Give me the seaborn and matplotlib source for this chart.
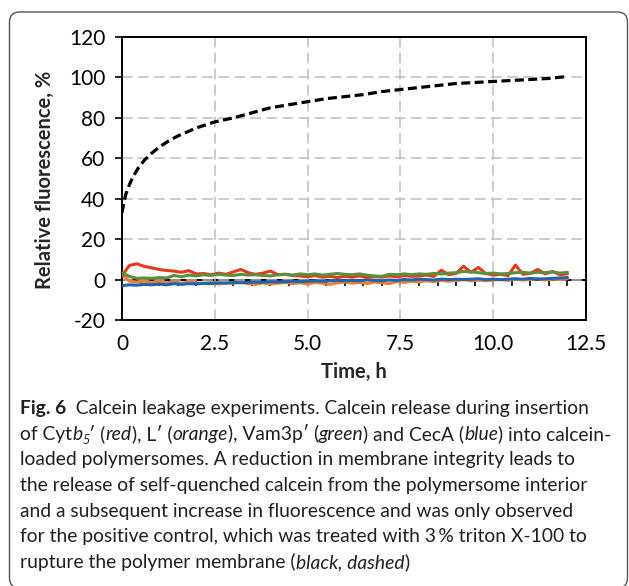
import numpy as np
import seaborn as sns
import matplotlib.pyplot as plt
from matplotlib.patches import FancyBboxPatch
from matplotlib.ticker import MultipleLocator

# time grid of the peptide runs (h)
hours = np.round(np.arange(0, 12.01, 0.2), 1)

cytb5 = [2.0, 7.0, 7.8, 6.5, 5.8, 5.0, 4.5, 4.2, 3.6, 4.4, 2.8, 3.0, 2.4, 3.2, 2.6, 3.8,
         5.0, 3.4, 2.6, 3.2, 4.2, 2.4, 2.6, 2.0, 1.8, 1.4, 2.0, 1.2, 1.6, 1.0, 1.6, 1.2,
         1.8, 1.0, 1.4, 1.2, 1.8, 1.4, 2.0, 1.6, 1.8, 2.2, 1.6, 4.6, 2.4, 3.0, 6.6, 3.6,
         6.0, 3.0, 2.2, 2.6, 2.0, 7.2, 2.6, 3.0, 5.0, 2.8, 4.0, 2.4, 2.8]
l_prime = [2.6, -0.8, -1.2, -0.8, -1.4, -1.0, -1.6, -1.2, -1.8, -1.2, -1.6, -2.0, -1.4, -2.2,
           -1.6, -1.8, -1.2, -2.0, -2.4, -1.6, -2.2, -1.8, -1.4, -2.0, -1.6, -2.2, -1.4, -1.8,
           -2.4, -1.6, -1.2, -1.8, -1.4, -2.0, -1.2, -1.6, -2.0, -1.0, -1.4, -0.8, -1.2, -0.6,
           -1.0, -0.4, -0.8, -0.4, 0.0, -0.6, -0.2, -0.6, -0.2, 0.0, -0.4, 0.2, -0.2, 0.0,
           0.4, -0.2, 0.2, 0.0, 0.4]
vam3p = [3.4, 1.6, 0.6, 0.8, 0.6, 1.0, 0.8, 2.0, 1.4, 2.2, 1.8, 2.4, 2.0, 2.6, 2.2, 2.0,
         2.6, 2.2, 2.4, 2.0, 1.8, 2.4, 2.6, 2.2, 2.8, 2.4, 2.8, 2.2, 2.6, 3.0, 2.6, 2.4,
         2.8, 2.2, 1.8, 1.6, 2.6, 2.4, 2.8, 2.4, 2.8, 2.6, 3.0, 2.8, 3.2, 3.4, 4.0, 3.8,
         3.4, 3.0, 3.2, 2.8, 3.0, 3.4, 3.6, 3.2, 3.6, 3.4, 3.8, 3.2, 3.6]
ceca = [-3.0, -2.6, -2.8, -2.4, -2.6, -2.2, -2.6, -2.0, -2.4, -2.0, -2.2, -1.8, -2.0, -1.6,
        -1.8, -1.4, -1.6, -1.4, -1.2, -1.4, -1.0, -1.2, -1.0, -0.8, -1.0, -0.8, -0.6, -0.8,
        -0.6, -0.4, -0.6, -0.4, -0.6, -0.2, -0.4, -0.6, -0.2, -0.4, 0.0, -0.2, 0.2, 0.0,
        -0.2, 0.2, 0.0, 0.2, 0.0, 0.2, 0.4, 0.0, 0.2, 0.0, 0.2, 0.4, 0.2, 0.6, 0.2, 0.4,
        0.6, 0.8, 1.0]

# positive control (3 % triton X-100)
triton_h = [0, 0.05, 0.1, 0.2, 0.3, 0.45, 0.6, 0.8, 1.0, 1.25, 1.5, 1.75, 2.0, 2.5, 3.0,
            3.5, 4.0, 4.5, 5.0, 5.5, 6.0, 6.5, 7.0, 7.5, 8.0, 8.5, 9.0, 9.5, 10.0, 10.5,
            11.0, 11.5, 12.0]
triton = [33, 38, 42, 47, 51, 55.5, 59, 62.5, 65.5, 68.5, 71, 73, 75, 78, 80, 82.5, 85,
          86.5, 88, 89.5, 90.5, 91.5, 93, 94, 95, 96, 97, 97.5, 98, 98.5, 99, 99.5, 100.5]

x_ticks = [0, 2.5, 5.0, 7.5, 10.0, 12.5]
x_ticklabels = ['0', '2.5', '5.0', '7.5', '10.0', '12.5']

sns.set_style('white')
plt.rcParams['font.family'] = ['Lato', 'DejaVu Sans']
plt.rcParams['axes.unicode_minus'] = False

W, H = 629, 586
fig = plt.figure(figsize=(W / 100, H / 100), dpi=100)
ax = fig.add_axes([122 / W, 1 - 320 / H, (586 - 122) / W, (320 - 37) / H])

sns.lineplot(x=triton_h, y=triton, ax=ax, color='black', lw=2.3,
             linestyle=(0, (2.8, 1.4)), zorder=5)
sns.lineplot(x=hours, y=l_prime, ax=ax, color='#ED7D31', lw=2.2, zorder=4)
sns.lineplot(x=hours, y=ceca, ax=ax, color='#1F64AE', lw=2.2, zorder=4)
sns.lineplot(x=hours, y=cytb5, ax=ax, color='#E8381B', lw=2.2, zorder=4)
sns.lineplot(x=hours, y=vam3p, ax=ax, color='#5B8F3C', lw=2.2, zorder=4)

ax.set_xlim(0, 12.5)
ax.set_ylim(-20, 120)
ax.set_xticks(x_ticks)
ax.set_xticklabels(x_ticklabels)
ax.yaxis.set_major_locator(MultipleLocator(20))
ax.grid(True, color='#BFBFBF', lw=1.1, linestyle=(0, (7, 3.5)))
ax.set_axisbelow(True)
for s in ax.spines.values():
    s.set_color('black')
    s.set_linewidth(1.4)
ax.tick_params(axis='y', left=True, length=5, width=1.2, pad=7, labelsize=15, colors='black')
ax.tick_params(axis='x', bottom=False, length=0, pad=10, labelsize=15, colors='black')
ax.set_xlabel('')
ax.set_ylabel('')

# x axis crossing at y = 0
zero_ax = ax.secondary_xaxis(1 / 7)
zero_ax.xaxis.set_major_locator(MultipleLocator(0.5))
zero_ax.tick_params(axis='x', direction='out', length=4, width=1.2, labelbottom=False,
                    colors='black')
zero_ax.spines['bottom'].set_linewidth(1.4)
zero_ax.spines['bottom'].set_color('black')

fig.text(45 / W, 1 - 180 / H, 'Relative fluorescence, %', rotation=90, ha='center',
         va='center', fontsize=14.5, fontweight='bold')
fig.text(354 / W, 1 - 372 / H, 'Time, h', ha='center', va='center', fontsize=14.5,
         fontweight='bold')

# rounded frame around figure + caption
fig.add_artist(FancyBboxPatch((9.5, -2), 618, H - 12 + 2, boxstyle='round,pad=0,rounding_size=10',
                              transform=None, fill=False, ec='#555555', lw=1.0))

# caption, drawn piece by piece for the mixed styles
cap_size = 13.9
renderer = fig.canvas.get_renderer()
styles = {
    'n': dict(),
    'b': dict(fontweight='bold'),
    'i': dict(fontstyle='italic'),
    's': dict(fontstyle='italic', fontsize=cap_size * 0.65),
}
caption = [
    [('Fig. 6', 'b'), ('  Calcein leakage experiments. Calcein release during insertion', 'n')],
    [('of Cyt', 'n'), ('b', 'i'), ('5', 's'), ('\u2032 (', 'n'), ('red', 'i'), ('), L\u2032 (', 'n'),
     ('orange', 'i'), ('), Vam3p\u2032 (', 'n'), ('green', 'i'), (') and CecA (', 'n'),
     ('blue', 'i'), (') into calcein-', 'n')],
    [('loaded polymersomes. A reduction in membrane integrity leads to', 'n')],
    [('the release of self-quenched calcein from the polymersome interior', 'n')],
    [('and a subsequent increase in fluorescence and was only observed', 'n')],
    [('for the positive control, which was treated with 3\u2009% triton X-100 to', 'n')],
    [('rupture the polymer membrane (', 'n'), ('black, dashed', 'i'), (')', 'n')],
]
for i, line in enumerate(caption):
    base = 414 + i * 25.67
    x = 20
    for txt, st in line:
        kw = dict(fontsize=cap_size, color='#231f20')
        kw.update(styles[st])
        dy = 4 if st == 's' else 0
        t = fig.text(x / W, 1 - (base + dy) / H, txt, ha='left', va='baseline', **kw)
        x += t.get_window_extent(renderer).width

fig.savefig('out.png', dpi=100)
